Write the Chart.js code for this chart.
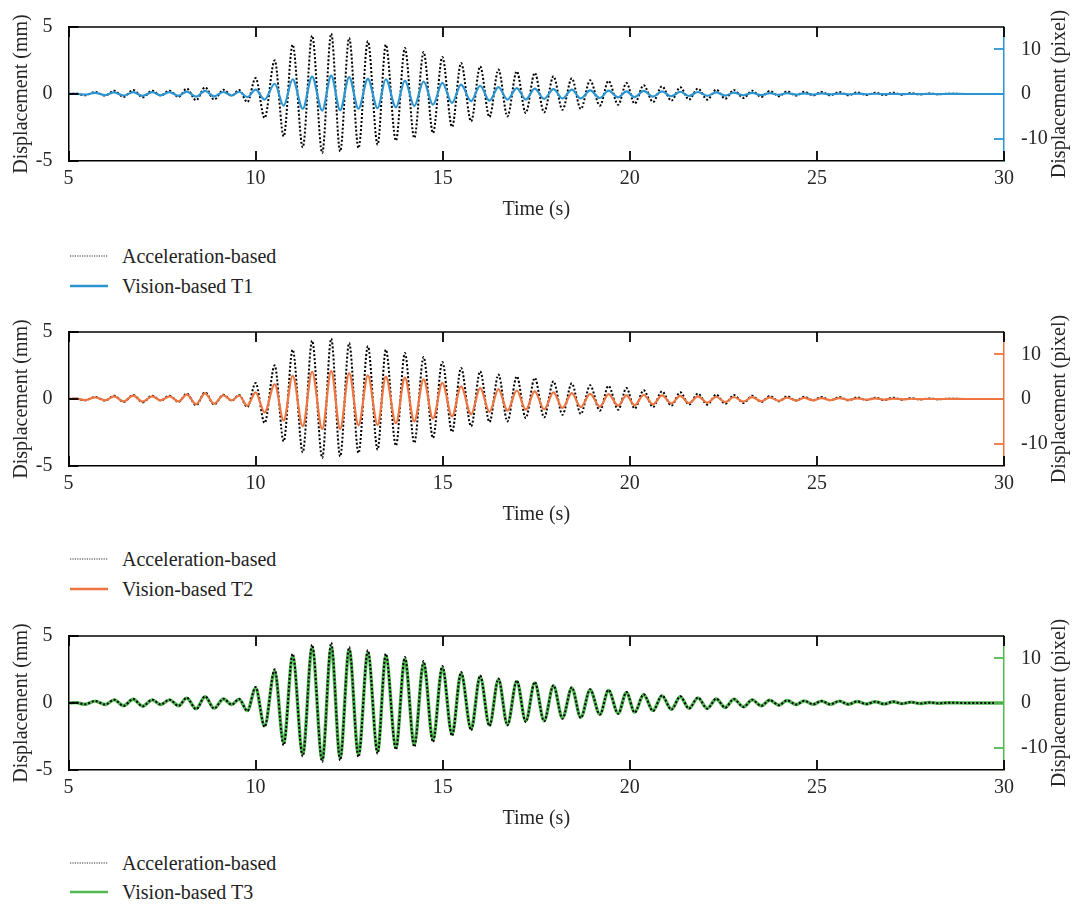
<!DOCTYPE html>
<html>
<head>
<meta charset="utf-8">
<title>Displacement comparison</title>
<script src="https://cdn.jsdelivr.net/npm/chart.js@4.4.1/dist/chart.umd.min.js"></script>
<style>
  body { margin: 0; background: #fff; }
  #page { position: relative; width: 1074px; height: 904px; font-family: "Liberation Serif", "DejaVu Serif", serif; color: #222; }
  .panel { position: absolute; left: 0; width: 1074px; height: 225px; }
  .legend-row { position: absolute; left: 70px; height: 24px; line-height: 24px; font-size: 20px; white-space: nowrap; }
  .legend-row svg { position: absolute; left: 0; top: 9px; }
  .legend-row span { position: absolute; left: 52px; top: 0; }
</style>
</head>
<body>
<div id="page">
  <div class="panel" style="top:0px"><canvas id="chart1"></canvas></div>
  <div class="panel" style="top:305px"><canvas id="chart2"></canvas></div>
  <div class="panel" style="top:609px"><canvas id="chart3"></canvas></div>
</div>
<script>
// Times of the peaks / troughs (s).
const peakTimes = [
  5.0, 5.2, 5.44, 5.71, 5.98, 6.22, 6.47, 6.73, 6.98, 7.24, 7.46, 7.7, 7.94, 8.16, 8.41, 8.65, 8.89, 9.14, 9.36, 9.56, 9.78,
  10.0, 10.24, 10.51, 10.75, 10.99, 11.26, 11.51, 11.78, 12.02, 12.26, 12.5, 12.75, 13.0, 13.26, 13.48, 13.75, 13.99, 14.24, 14.49, 14.74, 14.99,
  15.25, 15.49, 15.76, 16.0, 16.25, 16.49, 16.73, 16.98, 17.22, 17.46, 17.71, 17.96, 18.2, 18.45, 18.69, 18.94, 19.2, 19.43, 19.69, 19.91,
  20.13, 20.37, 20.62, 20.86, 21.11, 21.35, 21.58, 21.82, 22.07, 22.31, 22.55, 22.78, 23.04, 23.27, 23.51, 23.74, 23.99, 24.2, 24.45, 24.66,
  24.9, 25.12, 25.36, 25.6, 25.84, 26.08, 26.32, 26.56, 26.8, 27.04, 27.28, 27.52, 27.76, 28.0, 28.25, 28.5, 29.0, 30.0
];

// Acceleration-based displacement (mm), left axis.
const accelMm = [
  0, 0.03, -0.1, 0.15, -0.12, 0.25, -0.22, 0.3, -0.25, 0.25, -0.12, 0.25, -0.22, 0.4, -0.47, 0.5, -0.42, 0.32, -0.12, 0.3, -0.6,
  1.19, -1.79, 2.51, -3.16, 3.68, -3.98, 4.35, -4.4, 4.5, -4.28, 4.18, -4.03, 3.93, -3.78, 3.68, -3.48, 3.43, -3.28, 3.13, -2.91, 2.76,
  -2.46, 2.31, -2.04, 2.06, -1.72, 1.82, -1.67, 1.69, -1.42, 1.57, -1.37, 1.32, -1.17, 1.17, -1.12, 1.02, -0.87, 0.97, -0.8, 0.82,
  -0.72, 0.65, -0.6, 0.57, -0.5, 0.5, -0.42, 0.4, -0.42, 0.32, -0.35, 0.3, -0.3, 0.25, -0.22, 0.22, -0.17, 0.2, -0.12, 0.17,
  -0.1, 0.15, -0.1, 0.15, -0.1, 0.12, -0.08, 0.1, -0.08, 0.1, -0.05, 0.07, -0.04, 0.04, -0.02, 0.02, 0, 0
];

// Vision-based displacement (pixel), right axis.
const visionT1 = [
  0, 0.05, -0.15, 0.25, -0.25, 0.35, -0.35, 0.4, -0.4, 0.4, -0.3, 0.4, -0.4, 0.55, -0.6, 0.7, -0.55, 0.45, -0.35, 0.5, -0.7,
  0.96, -1.26, 2.3, -2.6, 3.3, -3.3, 3.9, -3.7, 4.1, -3.6, 3.8, -3.3, 3.4, -3.2, 3.3, -3.0, 3.0, -2.7, 2.8, -2.4, 2.5,
  -2.0, 2.1, -1.6, 1.85, -1.5, 1.55, -1.26, 1.33, -1.26, 1.2, -1.1, 1.1, -1.0, 0.96, -1.0, 0.8, -0.9, 0.75, -0.75, 0.6,
  -0.7, 0.7, -0.6, 0.6, -0.5, 0.5, -0.45, 0.45, -0.4, 0.35, -0.35, 0.3, -0.3, 0.25, -0.25, 0.2, -0.2, 0.18, -0.15, 0.15,
  -0.12, 0.12, -0.1, 0.1, -0.08, 0.08, -0.06, 0.06, -0.05, 0.05, -0.04, 0.04, -0.03, 0.03, -0.02, 0.02, 0, 0
];
const visionT2 = [
  0, 0.08, -0.25, 0.38, -0.3, 0.6, -0.55, 0.75, -0.6, 0.6, -0.3, 0.6, -0.55, 1.0, -1.15, 1.25, -1.05, 0.8, -0.3, 0.75, -1.5,
  1.5, -3.0, 3.3, -4.8, 5.2, -6.1, 6.1, -6.7, 6.3, -6.7, 5.8, -5.9, 5.3, -5.8, 5.0, -5.4, 4.8, -5.0, 4.4, -4.4, 3.6,
  -3.9, 2.8, -3.4, 2.5, -2.9, 2.2, -2.6, 1.9, -2.4, 1.7, -2.3, 1.5, -2.0, 1.3, -1.8, 1.15, -1.7, 1.1, -1.5, 0.8,
  -1.4, 0.9, -1.2, 0.8, -1.0, 0.7, -0.9, 0.6, -0.8, 0.5, -0.7, 0.45, -0.6, 0.4, -0.5, 0.35, -0.4, 0.3, -0.35, 0.25,
  -0.3, 0.2, -0.25, 0.18, -0.2, 0.15, -0.15, 0.12, -0.12, 0.1, -0.08, 0.06, -0.05, 0.04, -0.03, 0.02, 0, 0
];
const visionT3 = [
  0, 0.08, -0.3, 0.43, -0.35, 0.7, -0.6, 0.85, -0.7, 0.7, -0.35, 0.7, -0.6, 1.1, -1.3, 1.4, -1.2, 0.9, -0.35, 0.85, -1.7,
  3.3, -5.1, 7.1, -8.9, 10.4, -11.4, 12.3, -12.6, 12.5, -12.2, 11.9, -11.5, 11.2, -10.8, 10.5, -9.9, 9.8, -9.3, 8.9, -8.3, 7.9,
  -7.0, 6.6, -5.8, 5.9, -4.9, 5.2, -4.8, 4.8, -4.0, 4.5, -3.9, 3.8, -3.3, 3.3, -3.2, 2.9, -2.5, 2.8, -2.3, 2.3,
  -2.05, 1.85, -1.7, 1.6, -1.4, 1.4, -1.2, 1.15, -1.2, 0.9, -1.0, 0.85, -0.85, 0.7, -0.63, 0.63, -0.5, 0.57, -0.35, 0.48,
  -0.3, 0.43, -0.3, 0.43, -0.28, 0.34, -0.23, 0.28, -0.23, 0.28, -0.14, 0.2, -0.11, 0.11, -0.06, 0.06, 0, 0
];

// Tick labels.
const timeTicks = [5, 10, 15, 20, 25, 30];
const mmTicks = [-5, 0, 5];
const pixelTicks = [-10, 0, 10];

const panels = [
  { id: 'chart1', label: 'Vision-based T1', color: '#2b95d2', width: 2.2, data: visionT1, blackOnTop: false, legendY: [244, 274] },
  { id: 'chart2', label: 'Vision-based T2', color: '#ee7440', width: 2.2, data: visionT2, blackOnTop: false, legendY: [547, 577] },
  { id: 'chart3', label: 'Vision-based T3', color: '#52b852', width: 3.4, data: visionT3, blackOnTop: true, legendY: [851, 880] }
];

const font = { family: '"Liberation Serif", "DejaVu Serif", serif', size: 20 };
const textColor = '#262626';

const toPoints = (vals) => vals.map((v, i) => ({ x: peakTimes[i], y: v }));
const setTicks = (list) => (scale) => { scale.ticks = list.map(v => ({ value: v })); };

// Top frame line, inward tick marks (MATLAB style) and the right axis title read bottom-to-top.
const frameTicks = {
  id: 'frameTicks',
  afterDraw(chart) {
    const { ctx, chartArea: a, scales } = chart;
    const color = chart.options.plugins.frameTicks.color;
    const len = 10;
    const w = 1.8;
    const top = Math.round(a.top);
    const bottom = Math.round(a.bottom);
    ctx.save();
    ctx.setLineDash([]);
    ctx.lineWidth = 1.5;
    ctx.strokeStyle = '#000000';
    ctx.beginPath();
    ctx.moveTo(a.left, top);
    ctx.lineTo(a.right, top);
    ctx.stroke();
    ctx.fillStyle = '#000000';
    timeTicks.forEach(v => {
      const px = Math.round(scales.x.getPixelForValue(v));
      ctx.fillRect(px - w / 2, bottom - len, w, len);
      ctx.fillRect(px - w / 2, top, w, len);
    });
    mmTicks.forEach(v => {
      const py = Math.round(scales.y.getPixelForValue(v));
      ctx.fillRect(a.left, py - w / 2, len, w);
    });
    ctx.fillStyle = color;
    pixelTicks.forEach(v => {
      const py = Math.round(scales.y1.getPixelForValue(v));
      ctx.fillRect(a.right - len, py - w / 2, len, w);
    });
    // right axis title
    const title = scales.y1.options.title;
    ctx.fillStyle = textColor;
    ctx.font = `${font.size}px ${font.family}`;
    ctx.textAlign = 'center';
    ctx.textBaseline = 'middle';
    ctx.translate(1060, (a.top + a.bottom) / 2);
    ctx.rotate(-Math.PI / 2);
    ctx.fillText(title.text, 0, 0);
    ctx.restore();
  }
};

function makeChart(p) {
  const ctx = document.getElementById(p.id);
  return new Chart(ctx, {
    type: 'line',
    data: {
      datasets: [
        {
          label: 'Acceleration-based',
          data: toPoints(accelMm),
          yAxisID: 'y',
          borderColor: '#000000',
          borderWidth: 2,
          borderDash: [2, 2],
          order: p.blackOnTop ? 0 : 1
        },
        {
          label: p.label,
          data: toPoints(p.data),
          yAxisID: 'y1',
          borderColor: p.color,
          borderWidth: p.width,
          order: p.blackOnTop ? 1 : 0
        }
      ]
    },
    options: {
      responsive: false,
      animation: false,
      maintainAspectRatio: false,
      elements: {
        point: { radius: 0 },
        line: { cubicInterpolationMode: 'monotone', fill: false }
      },
      layout: { padding: { top: 27, left: 0, right: 0, bottom: 0 } },
      plugins: {
        legend: { display: false },
        tooltip: { enabled: false },
        frameTicks: { color: p.color }
      },
      scales: {
        x: {
          type: 'linear',
          min: 5,
          max: 30,
          afterBuildTicks: setTicks(timeTicks),
          afterFit: (s) => { s.height = 64; },
          grid: { display: false },
          border: { color: '#000', width: 1.5 },
          ticks: { font, color: textColor, padding: -2, maxRotation: 0, autoSkip: false },
          title: { display: true, text: 'Time (s)', font, color: textColor, padding: { top: 0, bottom: 3 } }
        },
        y: {
          position: 'left',
          min: -5,
          max: 5,
          afterBuildTicks: setTicks(mmTicks),
          afterFit: (s) => { s.width = 68.5; },
          grid: { display: false },
          border: { color: '#000', width: 1.5 },
          ticks: { font, color: textColor, padding: 8 },
          title: { display: true, text: 'Displacement (mm)', font, color: textColor, padding: { top: 9.5, bottom: 0 } }
        },
        y1: {
          position: 'right',
          min: -15,
          max: 15,
          afterBuildTicks: setTicks(pixelTicks),
          afterFit: (s) => { s.width = 70; },
          grid: { display: false },
          border: { color: p.color, width: 1.5 },
          ticks: { font, color: textColor, padding: 9 },
          title: { display: false, text: 'Displacement (pixel)' }
        }
      }
    },
    plugins: [frameTicks]
  });
}

panels.forEach(p => {
  const canvas = document.getElementById(p.id);
  canvas.width = 1074;
  canvas.height = 225;
  const chart = makeChart(p);

  // Legend, built from the chart's own datasets, stacked as in the figure.
  const page = document.getElementById('page');
  chart.data.datasets.forEach((ds, i) => {
    const row = document.createElement('div');
    row.className = 'legend-row';
    row.style.top = p.legendY[i] + 'px';
    const dashed = ds.borderDash && ds.borderDash.length;
    row.innerHTML =
      `<svg width="38" height="6"><line x1="0" y1="3" x2="38" y2="3" stroke="${dashed ? '#333' : ds.borderColor}"` +
      ` stroke-width="${dashed ? 1.2 : 2.5}"${dashed ? ' stroke-dasharray="1.2 1.2"' : ''}/></svg>` +
      `<span>${ds.label}</span>`;
    page.appendChild(row);
  });
});
</script>
</body>
</html>
